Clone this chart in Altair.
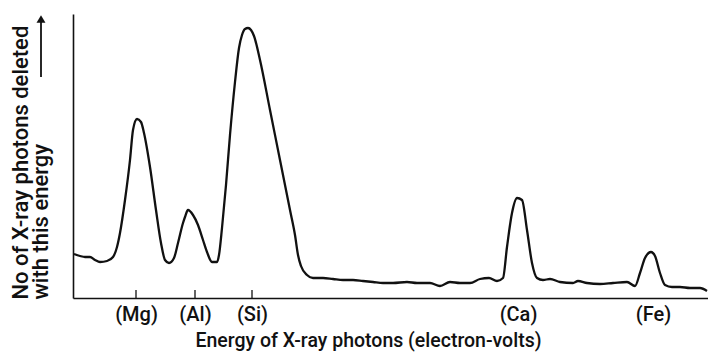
import altair as alt
import pandas as pd

# Spectrum trace (arbitrary energy units, arbitrary counts)
energy = [1, 7, 12, 17, 22, 27, 34, 40, 44, 47, 52, 57, 60, 64, 68, 71, 77, 83, 88, 92,
          96, 101, 105, 110, 112, 115, 120, 125, 130, 134, 139, 144, 146, 149, 153, 157,
          162, 166, 169, 172, 175, 178, 181, 187, 197, 207, 217, 222, 225, 228, 234, 240,
          250, 260, 270, 280, 290, 300, 310, 320, 334, 344, 357, 367, 377, 387, 397, 407,
          416, 424, 430, 434, 439, 444, 449, 454, 459, 464, 470, 477, 487, 500, 505, 514,
          527, 540, 554, 562, 567, 572, 578, 582, 587, 592, 599, 607, 617, 627, 634]
counts = [44, 42, 41, 41, 38, 36, 37, 41, 51, 65, 98, 138, 168, 179, 176, 165, 131, 88, 55, 38,
          35, 40, 55, 75, 81, 88, 83, 73, 58, 46, 36, 36, 43, 70, 113, 163,
          216, 250, 263, 269, 270, 268, 262, 238, 188, 138, 88, 63, 43, 32, 23, 20,
          20, 19, 18, 18, 17, 16, 15, 15, 16, 15, 15, 12, 16, 15, 15, 19,
          20, 17, 20, 51, 85, 100, 98, 68, 35, 20, 18, 19, 16, 15, 17, 15,
          14, 15, 16, 12, 25, 40, 46, 42, 25, 13, 11, 11, 10, 10, 7]

# Element labels on the energy axis
label_pos = [63, 122, 179, 445, 580]
label_txt = ["(Mg)", "(Al)", "(Si)", "(Ca)", "(Fe)"]
# Only the first three carry a tick mark in the reference
tick_pos = [63, 122, 179]

df = pd.DataFrame({"energy": energy, "counts": counts})
ticks_df = pd.DataFrame({"energy": tick_pos})
dummy = pd.DataFrame({"a": [0]})

FONT = "Roboto"
INK = "#111111"

label_expr = "[" + ",".join("'%s'" % t for t in label_txt) + "][indexof([" + \
    ",".join(str(v) for v in label_pos) + "], datum.value)]"

x_axis = alt.Axis(
    values=label_pos,
    labelExpr=label_expr,
    ticks=False,
    grid=False,
    domain=True,
    domainColor=INK,
    domainWidth=1.6,
    labelFont=FONT,
    labelFontSize=20,
    labelFontWeight=500,
    labelColor=INK,
    labelPadding=6,
    title="Energy of X-ray photons (electron-volts)",
    titleFont=FONT,
    titleFontSize=19.5,
    titleFontWeight=500,
    titleColor=INK,
    titleX=295,
    titleY=48,
    titleAlign="center",
    titleBaseline="alphabetic",
)

y_axis = alt.Axis(
    labels=False,
    ticks=False,
    grid=False,
    domain=True,
    domainColor=INK,
    domainWidth=1.6,
    title=["No of X-ray photons deleted", "with this energy"],
    titleFont=FONT,
    titleFontSize=22,
    titleFontWeight=500,
    titleColor=INK,
    titleAngle=270,
    titleAlign="left",
    titleBaseline="alphabetic",
    titleLineHeight=20,
    titleX=-46,
    titleY=285,
)

x_enc = alt.X("energy:Q", scale=alt.Scale(domain=[0, 635], nice=False, zero=False), axis=x_axis)
y_enc = alt.Y("counts:Q", scale=alt.Scale(domain=[0, 284], nice=False), axis=y_axis)

line = alt.Chart(df).mark_line(
    color=INK, strokeWidth=2.3, interpolate="monotone"
).encode(x=x_enc, y=y_enc)

tick_rules = alt.Chart(ticks_df).mark_rule(color=INK, strokeWidth=1.3).encode(
    x=x_enc, y=alt.value(276), y2=alt.value(284)
)

arrow_shaft = alt.Chart(dummy).mark_rule(color=INK, strokeWidth=1.8).encode(
    x=alt.value(-32), y=alt.value(8), y2=alt.value(63)
)
arrow_head = alt.Chart(dummy).mark_point(
    shape="triangle-up", filled=True, color=INK, size=80, opacity=1
).encode(x=alt.value(-32), y=alt.value(5))

chart = alt.layer(line, tick_rules, arrow_shaft, arrow_head).properties(
    width=635,
    height=284,
    autosize=alt.AutoSizeParams(type="none"),
    padding={"left": 73, "top": 14, "right": 0, "bottom": 61},
    background="white",
).configure_view(stroke=None)

chart.save("out.html", embed_options={"renderer": "svg", "actions": False})
